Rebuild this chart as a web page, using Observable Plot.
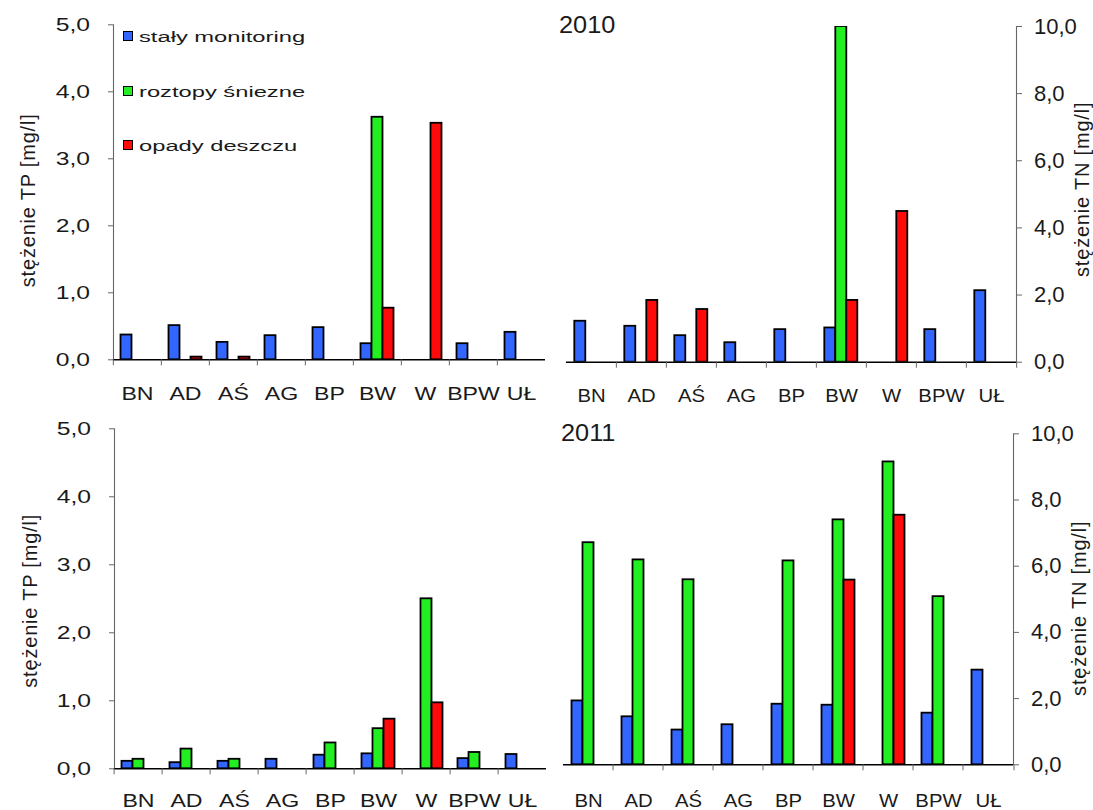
<!DOCTYPE html>
<html>
<head>
<meta charset="utf-8">
<script src="https://cdn.jsdelivr.net/npm/d3@7"></script>
<script src="https://cdn.jsdelivr.net/npm/@observablehq/plot@0.6"></script>
<style>
  html, body { margin: 0; padding: 0; background: #fff; }
  #wrap { position: relative; width: 1093px; height: 810px; overflow: hidden; background: #fff;
          font-family: "Liberation Sans", Arial, sans-serif; color: #1a1a1a; }
  .panel { position: absolute; }
  .panel svg { overflow: visible; }
  .panel g[aria-label="y-axis label"] text { font-size: 20px; letter-spacing: 0.8px; }
  .year { position: absolute; font-size: 23px; line-height: 1; transform: scaleX(1.1); transform-origin: 0 0; white-space: nowrap; }
  .lg-sw { position: absolute; width: 8px; height: 8px; border: 1.5px solid #000; }
  .lg-tx { position: absolute; font-size: 15.5px; line-height: 1; white-space: nowrap; transform: scaleX(1.53); transform-origin: 0 0; }
</style>
</head>
<body>
<div id="wrap"></div>
<script>
// ---- data ----
const categories = ["BN", "AD", "AŚ", "AG", "BP", "BW", "W", "BPW", "UŁ"];
const seriesNames = ["stały monitoring", "roztopy śniezne", "opady deszczu"];
const seriesColors = ["#3366ff", "#22ee22", "#ff0a0a"];
const years = ["2010", "2011"];

// TP [mg/l], 2010
const tp2010Monitoring = [0.37, 0.51, 0.26, 0.36, 0.48, 0.24, null, 0.24, 0.41];
const tp2010Snow       = [null, null, null, null, null, 3.62, null, null, null];
const tp2010Rain       = [null, 0.04, 0.04, null, null, 0.77, 3.53, null, null];
// TN [mg/l], 2010
const tn2010Monitoring = [1.22, 1.07, 0.79, 0.58, 0.97, 1.02, null, 0.97, 2.13];
const tn2010Snow       = [null, null, null, null, null, 10.0, null, null, null];
const tn2010Rain       = [null, 1.84, 1.57, null, null, 1.84, 4.49, null, null];
// TP [mg/l], 2011
const tp2011Monitoring = [0.11, 0.09, 0.11, 0.14, 0.20, 0.22, null, 0.15, 0.21];
const tp2011Snow       = [0.14, 0.29, 0.14, null, 0.38, 0.59, 2.50, 0.24, null];
const tp2011Rain       = [null, null, null, null, null, 0.73, 0.97, null, null];
// TN [mg/l], 2011
const tn2011Monitoring = [1.93, 1.45, 1.05, 1.21, 1.83, 1.80, null, 1.56, 2.86];
const tn2011Snow       = [6.71, 6.19, 5.59, null, 6.16, 7.40, 9.15, 5.08, null];
const tn2011Rain       = [null, null, null, null, null, 5.58, 7.54, null, null];

const tpTicks = [0, 1, 2, 3, 4, 5];
const tnTicks = [0, 2, 4, 6, 8, 10];
const tpLabel = "stężenie TP [mg/l]";
const tnLabel = "stężenie TN [mg/l]";

function toRows(monitoring, snow, rain) {
  const rows = [];
  [monitoring, snow, rain].forEach((arr, s) => {
    arr.forEach((v, i) => {
      if (v != null) rows.push({cat: categories[i], series: seriesNames[s], value: v});
    });
  });
  return rows;
}

const fmt = d => d.toFixed(1).replace(".", ",");

// append a transform to each text of an axis group (horizontal stretch / shift)
function adjustTexts(svg, ariaLabel, extra) {
  svg.querySelectorAll(`g[aria-label="${ariaLabel}"] text`).forEach(t => {
    const tr = t.getAttribute("transform") || "";
    t.setAttribute("transform", `${tr} ${extra}`);
  });
}

function panel(o) {
  const {rows, ticks, label, anchor, left, top, width, height, mL, mR, mT, mB} = o;
  const step = (width - mL - mR) / categories.length;
  const barW = step / 4.25;
  const side = (step - 3 * barW) / 2;
  const yMax = ticks[ticks.length - 1];
  const isLeft = anchor === "left";
  const marks = [
    Plot.frame({anchor, facet: "super", stroke: "#666", strokeWidth: 1.1}),
    Plot.axisY({
      anchor, ticks, tickFormat: fmt, tickSize: 5, tickPadding: o.tickPad, fontSize: o.yFont,
      label, labelAnchor: "center", labelArrow: "none", labelOffset: o.labelOffset, stroke: "#666"
    }),
    Plot.barY(rows, {fx: "cat", x: "series", y: "value", fill: "series", stroke: "#000", strokeWidth: 1.8, clip: true}),
    Plot.ruleY([0], {stroke: "#000", strokeWidth: 1.4}),
    Plot.axisFx({anchor: "bottom", tickSize: 0, tickPadding: o.fxPad, fontSize: o.fxFont, label: null}),
    Plot.axisFx({anchor: "bottom", ticks: categories.slice(1), tickFormat: () => "", tickSize: 6, dx: -step / 2, label: null, stroke: "#666"}),
    isLeft
      ? Plot.axisFx({anchor: "bottom", ticks: categories.slice(0, 1), tickFormat: () => "", tickSize: 6, dx: -step / 2, label: null, stroke: "#666"})
      : Plot.axisFx({anchor: "bottom", ticks: categories.slice(-1), tickFormat: () => "", tickSize: 6, dx: step / 2, label: null, stroke: "#666"})
  ];
  const svg = Plot.plot({
    width, height, marginLeft: mL, marginRight: mR, marginTop: mT, marginBottom: mB,
    style: {fontFamily: '"Liberation Sans", Arial, sans-serif', fontSize: "19px", color: "#1a1a1a", background: "transparent", overflow: "visible"},
    fx: {domain: categories, padding: 0, axis: null},
    x: {domain: seriesNames, padding: 0, insetLeft: side, insetRight: side, axis: null},
    y: {domain: [0, yMax], axis: null},
    color: {domain: seriesNames, range: seriesColors},
    marks
  });
  adjustTexts(svg, "fx-axis tick label", `scale(${o.fxStretch},1)`);
  adjustTexts(svg, "y-axis tick label", `scale(${o.yStretch},1)`);
  adjustTexts(svg, "y-axis label", `translate(${-o.labelShift},0)`);
  const div = document.createElement("div");
  div.className = "panel";
  div.style.left = left + "px";
  div.style.top = top + "px";
  div.appendChild(svg);
  document.getElementById("wrap").appendChild(div);
}

const leftStyle  = {anchor: "left",  tickPad: 18.5, yFont: 19, yStretch: 1.3, fxFont: 18.5, fxStretch: 1.25};
const rightStyle = {anchor: "right", tickPad: 12.5, yFont: 22, yStretch: 1.0, fxFont: 19,   fxStretch: 1.07, labelOffset: 72};

panel({...leftStyle, rows: toRows(tp2010Monitoring, tp2010Snow, tp2010Rain), ticks: tpTicks, label: tpLabel,
       left: 0, top: 0, width: 560, height: 405, mL: 111.5, mR: 13.8, mT: 24.3, mB: 45.7,
       fxPad: 27, labelOffset: 93, labelShift: 8});
panel({...rightStyle, rows: toRows(tn2010Monitoring, tn2010Snow, tn2010Rain), ticks: tnTicks, label: tnLabel,
       left: 560, top: 0, width: 533, height: 405, mL: 4.7, mR: 75.6, mT: 26, mB: 43.3,
       fxPad: 26, labelShift: -5});
panel({...leftStyle, rows: toRows(tp2011Monitoring, tp2011Snow, tp2011Rain), ticks: tpTicks, label: tpLabel,
       left: 0, top: 405, width: 556, height: 405, mL: 110.5, mR: 6.3, mT: 23.3, mB: 41.7,
       fxPad: 25, labelOffset: 92, labelShift: 2});
panel({...rightStyle, rows: toRows(tn2011Monitoring, tn2011Snow, tn2011Rain), ticks: tnTicks, label: tnLabel,
       left: 556, top: 405, width: 537, height: 405, mL: 2.5, mR: 76, mT: 28.3, mB: 45.7,
       fxPad: 28.5, labelShift: 9});

// year titles
const wrap = document.getElementById("wrap");
[[years[0], 559, 13.7], [years[1], 561, 422]].forEach(([t, x, y]) => {
  const d = document.createElement("div");
  d.className = "year";
  d.textContent = t;
  d.style.left = x + "px";
  d.style.top = y + "px";
  wrap.appendChild(d);
});

// legend
[31, 86, 140].forEach((y, i) => {
  const sw = document.createElement("div");
  sw.className = "lg-sw";
  sw.style.left = "123px";
  sw.style.top = y + "px";
  sw.style.background = seriesColors[i];
  wrap.appendChild(sw);
  const tx = document.createElement("div");
  tx.className = "lg-tx";
  tx.style.left = "139px";
  tx.style.top = (y - 2.4) + "px";
  tx.textContent = seriesNames[i];
  wrap.appendChild(tx);
});
</script>
</body>
</html>
